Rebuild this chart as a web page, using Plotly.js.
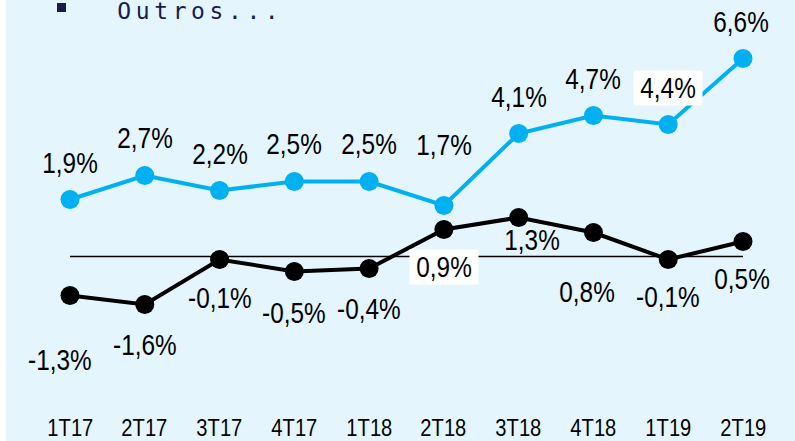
<!DOCTYPE html>
<html>
<head>
<meta charset="utf-8">
<script src="https://cdn.plot.ly/plotly-3.0.1.min.js"></script>
<style>
  html, body { margin: 0; padding: 0; background: #ffffff; }
  #chart { width: 795px; height: 441px; }
  .annotation[data-index="0"] text { letter-spacing: 4.6px; }
  .annotation:not([data-index="0"]) text.annotation-text {
    transform-box: fill-box;
    transform-origin: center;
    scale: 0.84 1;
  }
</style>
</head>
<body>
<div id="chart"></div>
<script>
// ---- data ----
const categories = ['1T17', '2T17', '3T17', '4T17', '1T18', '2T18', '3T18', '4T18', '1T19', '2T19'];
const blueValues = [1.9, 2.7, 2.2, 2.5, 2.5, 1.7, 4.1, 4.7, 4.4, 6.6];
const blackValues = [-1.3, -1.6, -0.1, -0.5, -0.4, 0.9, 1.3, 0.8, -0.1, 0.5];
const legendText = 'Outros...';

// ---- label placement (pixel offsets from each point) ----
const blueShiftY = [37, 38, 37, 38, 38, 61, 37, 37, 37, 37];
const blueShiftX = [0, 0, 0, 0, 0, 0, 0, 0, 0, -2];
const blueBoxed = [false, false, false, false, false, false, false, false, true, false];
const blackShiftY = [-64, -40, -38, -41, -40, -37, -22, -59, -37, -37];
const blackShiftX = [-10, 0, 0, 0, 0, 0, 13, -6, 0, -1];
const blackBoxed = [false, false, false, false, false, true, false, false, false, false];

const W = 795, H = 441, MB = 30;
const PH = H - MB;
const BLUE = '#00B0F0';
const BG = '#E4F5FD';
const LABEL_FONT = 'Liberation Sans, Arial, sans-serif';

function fmt(v) { return v.toFixed(1).replace('.', ',') + '%'; }

const traces = [
  {
    x: categories, y: blackValues, type: 'scatter', mode: 'lines+markers',
    line: { color: '#000000', width: 4 },
    marker: { color: '#000000', size: 19 },
    hoverinfo: 'skip'
  },
  {
    x: categories, y: blueValues, type: 'scatter', mode: 'lines+markers',
    line: { color: BLUE, width: 4 },
    marker: { color: BLUE, size: 19 },
    hoverinfo: 'skip'
  }
];

const annotations = [];
// legend text (index 0, letter-spaced via CSS)
annotations.push({
  xref: 'paper', yref: 'paper', x: 200 / W, y: 1 - 11 / PH,
  xanchor: 'center', yanchor: 'middle', showarrow: false,
  text: legendText,
  font: { family: 'DejaVu Sans Mono, monospace', size: 23, color: '#1B1B4D' }
});

function addLabels(values, sy, sx, boxed) {
  values.forEach((v, i) => {
    const a = {
      x: categories[i], y: v, xref: 'x', yref: 'y',
      text: fmt(v), showarrow: false,
      xanchor: 'center', yanchor: 'middle',
      xshift: sx[i], yshift: sy[i],
      font: { family: LABEL_FONT, size: 29, color: '#000000' }
    };
    if (boxed[i]) { a.bgcolor = '#FFFFFF'; a.borderpad = 1; }
    annotations.push(a);
  });
}
addLabels(blueValues, blueShiftY, blueShiftX, blueBoxed);
addLabels(blackValues, blackShiftY, blackShiftX, blackBoxed);

// category tick labels, placed on the x axis below the plot
categories.forEach((c) => {
  annotations.push({
    x: c, xref: 'x', yref: 'paper', y: 0,
    text: c, showarrow: false,
    xanchor: 'center', yanchor: 'middle', yshift: -16,
    font: { family: LABEL_FONT, size: 24, color: '#000000' }
  });
});

const pxPerCat = (743 - 70) / (categories.length - 1);
const xr0 = -70 / pxPerCat;
const xr1 = (categories.length - 1) + (W - 743) / pxPerCat;
const pxPerUnit = 30;
const zeroY = 256.5;
const yTop = zeroY / pxPerUnit;
const yBot = -(PH - zeroY) / pxPerUnit;

const layout = {
  width: W, height: H,
  margin: { l: 0, r: 0, t: 0, b: MB, pad: 0 },
  paper_bgcolor: BG,
  plot_bgcolor: BG,
  showlegend: false,
  xaxis: {
    type: 'category', range: [xr0, xr1],
    showgrid: false, zeroline: false, showline: false, ticks: '',
    showticklabels: false,
    fixedrange: true
  },
  yaxis: {
    range: [yBot, yTop], visible: false, showgrid: false, zeroline: false,
    fixedrange: true
  },
  shapes: [
    { type: 'line', xref: 'x', yref: 'y', x0: categories[0], x1: categories[categories.length - 1], y0: 0, y1: 0,
      line: { color: '#000000', width: 1.6 }, layer: 'below' },
    { type: 'rect', xref: 'paper', yref: 'paper', x0: -0.01, x1: 6 / W, y0: -0.2, y1: 1.05,
      fillcolor: '#FFFFFF', line: { width: 0 }, layer: 'below' },
    { type: 'rect', xref: 'paper', yref: 'paper', x0: 57 / W, x1: 66 / W, y0: 1 - 12 / PH, y1: 1 - 3 / PH,
      fillcolor: '#1B1B4D', line: { width: 0 }, layer: 'above' }
  ],
  annotations: annotations
};

Plotly.newPlot('chart', traces, layout, { displayModeBar: false, staticPlot: true });
</script>
</body>
</html>
